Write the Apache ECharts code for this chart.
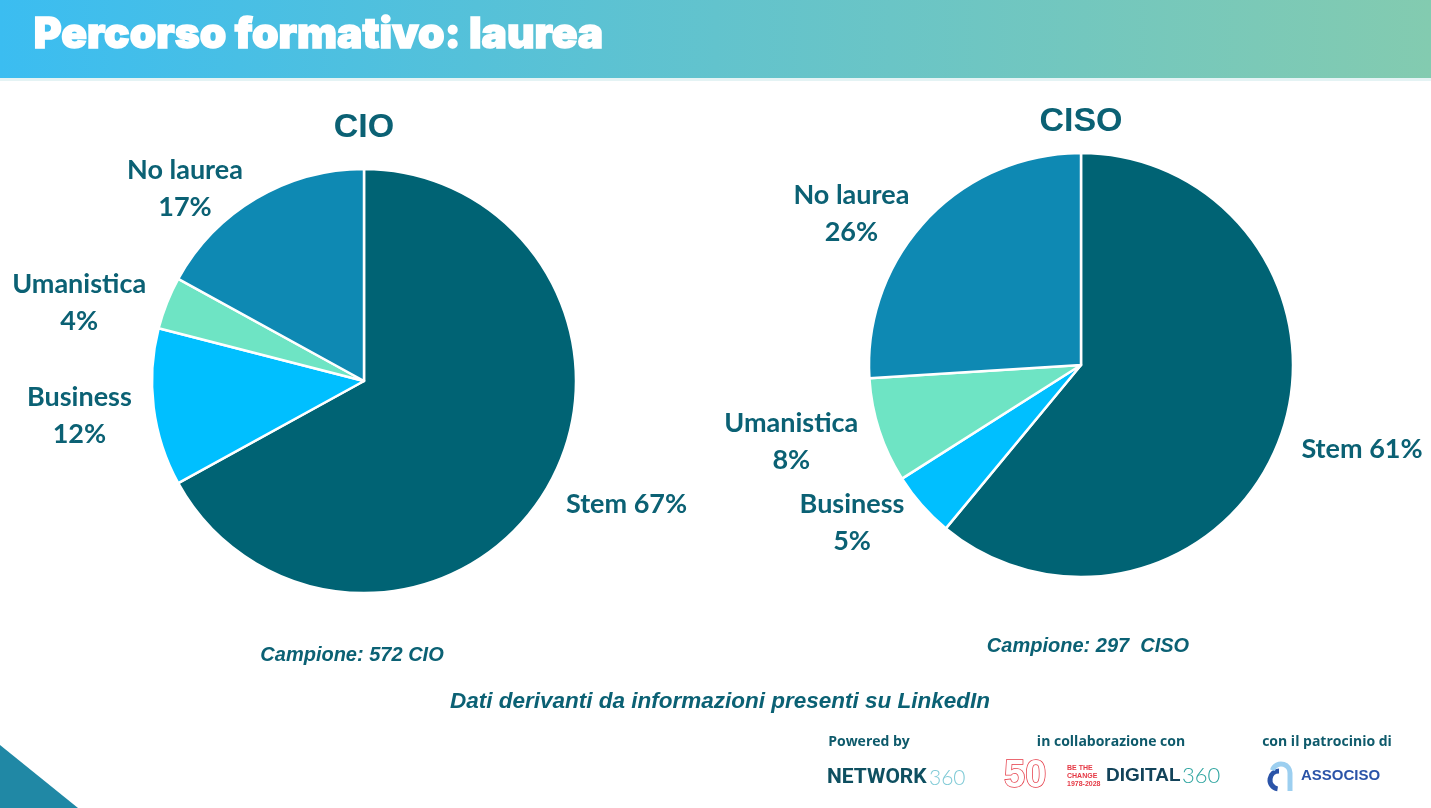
<!DOCTYPE html>
<html>
<head>
<meta charset="utf-8">
<script src="https://cdn.jsdelivr.net/npm/echarts@6/dist/echarts.min.js"></script>
<style>
  html, body { margin: 0; padding: 0; background: #fff; }
  #main { width: 1431px; height: 808px; }
</style>
</head>
<body>
<div id="main"></div>
<script>
// categorie (ordine orario partendo da ore 12)
var categorie = ['Stem', 'Business', 'Umanistica', 'No laurea'];
var valoriCIO = [67, 12, 4, 17];
var valoriCISO = [61, 5, 8, 26];
var colori = ['#006374', '#00BFFF', '#6EE4C4', '#0E89B3'];
var titoli = ['CIO', 'CISO'];
var campioni = ['Campione: 572 CIO', 'Campione: 297  CISO'];

var testo = '#0B6174';

function dati(valori) {
  return categorie.map(function (c, i) {
    return { name: c, value: valori[i], itemStyle: { color: colori[i] } };
  });
}

function serie(valori, centro) {
  return {
    type: 'pie',
    center: centro,
    radius: 212,
    startAngle: 90,
    clockwise: true,
    animation: false,
    silent: true,
    itemStyle: { borderColor: '#fff', borderWidth: 2.5 },
    label: {
      show: true,
      position: 'outside',
      distanceToLabelLine: 4,
      bleedMargin: 0,
      overflow: 'none',
      formatter: function (p) {
        if (p.name === 'Stem') return '{a|' + p.name + ' ' + p.value + '%}';
        return '{a|' + p.name + '}\n{a|' + p.value + '%}';
      },
      rich: {
        a: { fontFamily: 'Lato', fontWeight: 'bold', fontSize: 27, color: testo, align: 'center', lineHeight: 37 }
      }
    },
    labelLine: { show: false, length: 18, length2: 0 },
    labelLayout: function (p) {
      return { dy: 6 };
    },
    data: dati(valori)
  };
}

var chart = echarts.init(document.getElementById('main'));

var stileTitolo = { fontFamily: 'Liberation Sans', fontWeight: 'bold', fontSize: 34, color: testo };

var option = {
  backgroundColor: '#ffffff',
  title: [
    { text: titoli[0], left: 359, top: 106, textAlign: 'center', textStyle: stileTitolo },
    { text: titoli[1], left: 1076, top: 100, textAlign: 'center', textStyle: stileTitolo }
  ],
  series: [
    serie(valoriCIO, [364, 381]),
    serie(valoriCISO, [1081, 365])
  ],
  graphic: [
    // fascia intestazione
    { type: 'rect', shape: { x: 0, y: 0, width: 1431, height: 78 },
      style: { fill: new echarts.graphic.LinearGradient(0, 0, 1, 0, [
        { offset: 0, color: '#3BBDF1' }, { offset: 0.5, color: '#62C3CD' }, { offset: 1, color: '#83CBB0' }]) } },
    { type: 'rect', shape: { x: 0, y: 78, width: 1431, height: 3 },
      style: { fill: '#E4F3F4' } },
    { type: 'text', left: 33, top: 13,
      style: { text: 'Percorso formativo: laurea', fill: '#fff', stroke: '#fff', lineWidth: 1.5, font: '900 42.5px Inter' } },
    // triangolo in basso a sinistra
    { type: 'polygon', shape: { points: [[0, 745], [78, 808], [0, 808]] }, style: { fill: '#2088A5' } },
    // note
    { type: 'text', x: 352, y: 655, style: { text: campioni[0], fill: testo, font: 'italic bold 20px "Liberation Sans"', align: 'center', verticalAlign: 'middle' } },
    { type: 'text', x: 1088, y: 646, style: { text: campioni[1], fill: testo, font: 'italic bold 20px "Liberation Sans"', align: 'center', verticalAlign: 'middle' } },
    { type: 'text', x: 720, y: 702, style: { text: 'Dati derivanti da informazioni presenti su LinkedIn', fill: testo, font: 'italic bold 22.5px "Liberation Sans"', align: 'center', verticalAlign: 'middle' } },
    // loghi
    { type: 'text', x: 869, y: 742, style: { text: 'Powered by', fill: '#0E5A6B', font: 'bold 14px "Open Sans"', align: 'center', verticalAlign: 'middle' } },
    { type: 'text', x: 1111, y: 742, style: { text: 'in collaborazione con', fill: '#0E5A6B', font: 'bold 14px "Open Sans"', align: 'center', verticalAlign: 'middle' } },
    { type: 'text', x: 1327, y: 742, style: { text: 'con il patrocinio di', fill: '#0E5A6B', font: 'bold 14px "Open Sans"', align: 'center', verticalAlign: 'middle' } },
    { type: 'text', x: 827, y: 778, style: { text: 'NETWORK', fill: '#0E4F60', font: 'bold 21px Roboto', verticalAlign: 'middle' } },
    { type: 'text', x: 929, y: 778, style: { text: '360', fill: '#7FCAD6', font: '300 21px Lato', verticalAlign: 'middle' } },
    { type: 'text', x: 1004, y: 777, style: { text: '50', fill: '#fff', stroke: '#E53945', lineWidth: 1.5, font: 'bold 38px "Liberation Sans"', verticalAlign: 'middle' } },
    { type: 'text', x: 1067, y: 776, style: { text: 'BE THE\nCHANGE\n1978-2028', fill: '#E53945', font: 'bold 7px "Liberation Sans"', verticalAlign: 'middle', lineHeight: 8 } },
    { type: 'text', x: 1106, y: 776, style: { text: 'DIGITAL', fill: '#12435A', font: 'bold 19px "Liberation Sans"', verticalAlign: 'middle' } },
    { type: 'text', x: 1182, y: 776, style: { text: '360', fill: '#2FA5A0', font: '300 22px Lato', verticalAlign: 'middle' } },
    { type: 'arc', shape: { cx: 1279, cy: 780, r: 9, startAngle: Math.PI * 0.55, endAngle: Math.PI * 1.5, clockwise: true },
      style: { stroke: '#2B54A8', lineWidth: 5, fill: null } },
    { type: 'arc', shape: { cx: 1281, cy: 773, r: 9, startAngle: Math.PI * 1.1, endAngle: Math.PI * 2, clockwise: true },
      style: { stroke: '#9CCFF0', lineWidth: 5, fill: null } },
    { type: 'line', shape: { x1: 1290, y1: 773, x2: 1290, y2: 791 }, style: { stroke: '#9CCFF0', lineWidth: 5 } },
    { type: 'text', x: 1301, y: 776, style: { text: 'ASSOCISO', fill: '#2B54A8', font: 'bold 15px "Liberation Sans"', verticalAlign: 'middle' } }
  ]
};

chart.setOption(option);
</script>
</body>
</html>
